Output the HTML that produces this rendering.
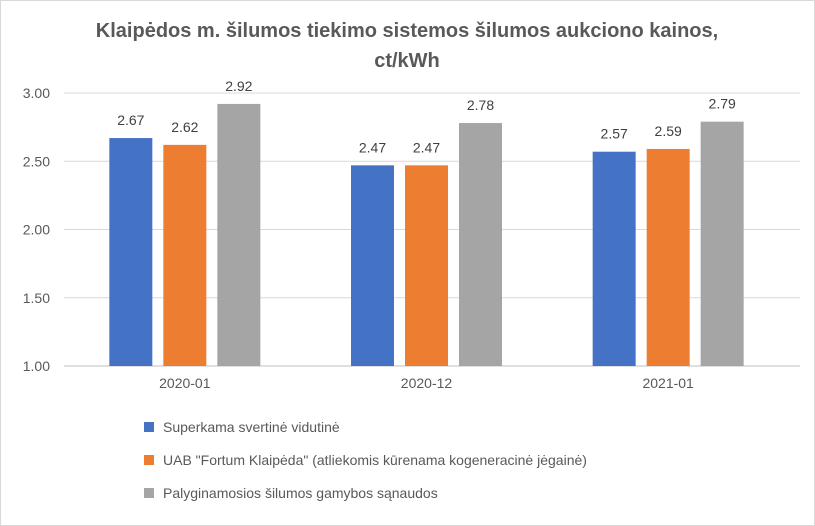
<!DOCTYPE html>
<html><head><meta charset="utf-8"><style>
body{margin:0;background:#fff;}
svg{display:block;font-family:"Liberation Sans",sans-serif;}
</style></head><body>
<svg id="chart" width="815" height="526">
<rect x="0.5" y="0.5" width="814" height="525" fill="#fff" stroke="#d9d9d9"/>
<text x="407" y="37" text-anchor="middle" font-size="20" font-weight="bold" fill="#595959">Klaipėdos m. šilumos tiekimo sistemos šilumos aukciono kainos,</text>
<text x="407" y="67" text-anchor="middle" font-size="20" font-weight="bold" fill="#595959">ct/kWh</text>
<g id="grid"></g><g id="bars"></g><g id="labels"></g>
<g id="legend"></g>
</svg>
<script>
const categories=["2020-01","2020-12","2021-01"];
const seriesNames=["Superkama svertinė vidutinė","UAB \"Fortum Klaipėda\" (atliekomis kūrenama kogeneracinė jėgainė)","Palyginamosios šilumos gamybos sąnaudos"];
const s1=[2.67,2.47,2.57];
const s2=[2.62,2.47,2.59];
const s3=[2.92,2.78,2.79];
const yTicks=[1.00,1.50,2.00,2.50,3.00];
const colors=["#4472c4","#ed7d31","#a5a5a5"];
const NS="http://www.w3.org/2000/svg";
const L=64,R=789,T=93,B=366,yMin=1,yMax=3;
const y=v=>B-(v-yMin)/(yMax-yMin)*(B-T);
const cw=(R-L)/categories.length;
const x=i=>L+cw*(i+0.5);
function mk(tag,attrs,parent,txt){const e=document.createElementNS(NS,tag);for(const k in attrs)e.setAttribute(k,attrs[k]);if(txt!==undefined)e.textContent=txt;document.getElementById(parent).appendChild(e);return e;}
yTicks.forEach(t=>{
 const l=mk('line',{x1:L,x2:R+11,y1:y(t),y2:y(t),stroke:t===yMin?'#bfbfbf':'#d9d9d9','stroke-width':1},'grid');
 
 
 const tx=mk('text',{x:50,y:y(t)+5,'text-anchor':'end','font-size':14,fill:'#595959'},'labels',t.toFixed(2));
 
 
});
const series=[s1,s2,s3];
const bw=43,gap=11;
categories.forEach((c,i)=>{
 series.forEach((s,j)=>{
  const bx=x(i)+(j-1)*(bw+gap)-bw/2;
  const r=mk('rect',{x:bx,y:y(s[i]),width:bw,height:B-y(s[i]),fill:colors[j]},'bars');
  
  
  const v=mk('text',{x:bx+bw/2,y:y(s[i])-13,'text-anchor':'middle','font-size':14,fill:'#404040'},'labels',s[i].toFixed(2));
  
  
 });
 const cl=mk('text',{x:x(i),y:B+22,'text-anchor':'middle','font-size':14,fill:'#595959'},'labels',c);
 
 
});
seriesNames.forEach((n,j)=>{
 const ly=427+j*33;
 const sq=mk('rect',{x:144,y:ly-5,width:10,height:10,fill:colors[j]},'legend');
 
 
 const t=mk('text',{x:163,y:ly+5,'font-size':14,fill:'#595959'},'legend',n);
 
 
});
</script>
</body></html>
